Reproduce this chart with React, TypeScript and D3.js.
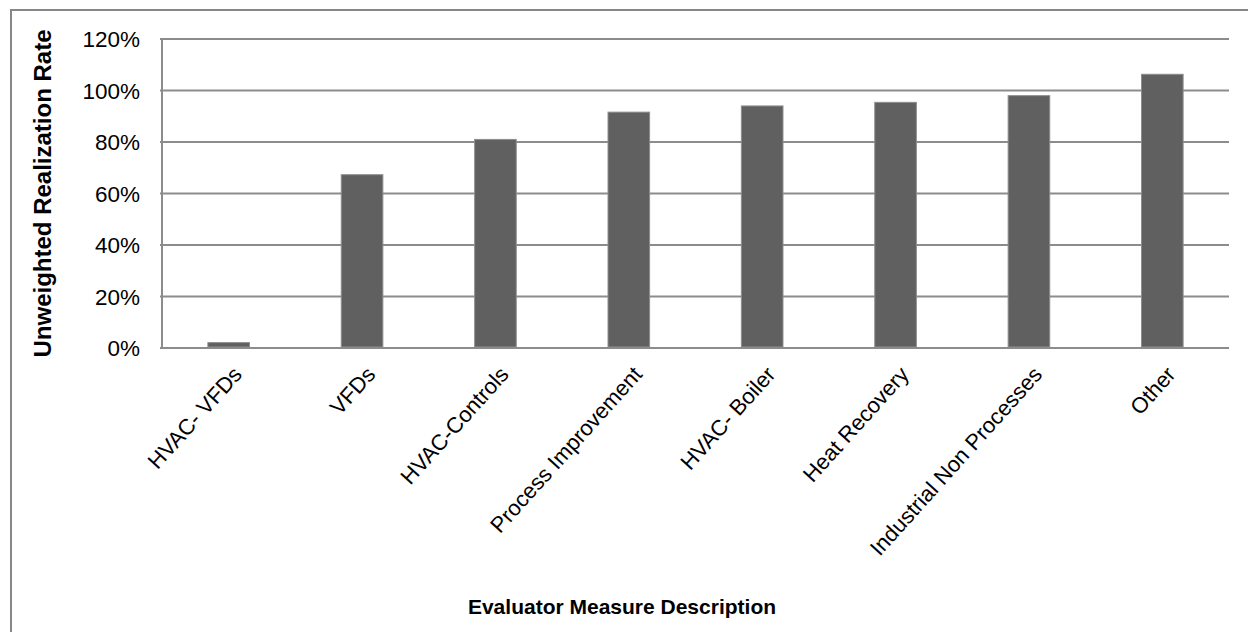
import React from "react";
import * as d3 from "d3";

const categories: string[] = [
  "HVAC- VFDs",
  "VFDs",
  "HVAC-Controls",
  "Process Improvement",
  "HVAC- Boiler",
  "Heat Recovery",
  "Industrial Non Processes",
  "Other",
];
const rates: number[] = [2.1, 67.3, 81, 91.6, 94, 95.4, 98, 106.3];
const yTicks: number[] = [0, 20, 40, 60, 80, 100, 120];
const yTitle = "Unweighted Realization Rate";
const xTitle = "Evaluator Measure Description";

const W = 1248;
const H = 632;
const plot = { left: 162, right: 1229, top: 39, bottom: 348 };
const FONT = "'Liberation Sans', Arial, sans-serif";

export default function App() {
  const x = d3
    .scaleBand<string>()
    .domain(categories)
    .range([plot.left, plot.right])
    .paddingInner(0.688)
    .paddingOuter(0.344);
  const y = d3.scaleLinear().domain([0, 120]).range([plot.bottom, plot.top]);
  const band = (plot.right - plot.left) / categories.length;

  return (
    <svg
      width={W}
      height={H}
      style={{ position: "absolute", left: 0, top: 0, display: "block", background: "#fff" }}
      fontFamily={FONT}
    >
      <rect x={11} y={10} width={W + 20} height={H + 20} fill="#fff" stroke="#878787" strokeWidth={2} />
      {yTicks.map((t) => (
        <g key={t}>
          <line x1={plot.left - 2} x2={plot.right} y1={y(t)} y2={y(t)} stroke="#8c8c8c" strokeWidth={2} />
          <text x={140} y={y(t)} dy="0.36em" textAnchor="end" fontSize={22.5} fill="#000">
            {t}%
          </text>
        </g>
      ))}
      <line x1={plot.left} x2={plot.left} y1={plot.top} y2={plot.bottom} stroke="#8c8c8c" strokeWidth={2} />
      {categories.map((c, i) => (
        <rect
          key={c}
          x={x(c)}
          y={y(rates[i])}
          width={x.bandwidth()}
          height={y(0) - y(rates[i]) - 1}
          fill="#606060"
          stroke="#8e8e8e"
          strokeWidth={1}
        />
      ))}
      <line x1={plot.left} x2={plot.right} y1={plot.bottom} y2={plot.bottom} stroke="#8c8c8c" strokeWidth={2} />
      {categories.map((c, i) => {
        const cx = plot.left + band * (i + 0.5);
        const ax = cx + 3;
        const ay = 365;
        return (
          <text
            key={c}
            x={ax}
            y={ay}
            textAnchor="end"
            fontSize={22}
            fill="#000"
            transform={`rotate(-48 ${ax} ${ay})`}
            dy="0.7em"
          >
            {c}
          </text>
        );
      })}
      <text
        transform={`translate(51 ${(plot.top + plot.bottom) / 2}) rotate(-90)`}
        textAnchor="middle"
        fontSize={24}
        fontWeight="bold"
        fill="#000"
      >
        {yTitle}
      </text>
      <text x={622} y={614} textAnchor="middle" fontSize={21} fontWeight="bold" fill="#000">
        {xTitle}
      </text>
    </svg>
  );
}
